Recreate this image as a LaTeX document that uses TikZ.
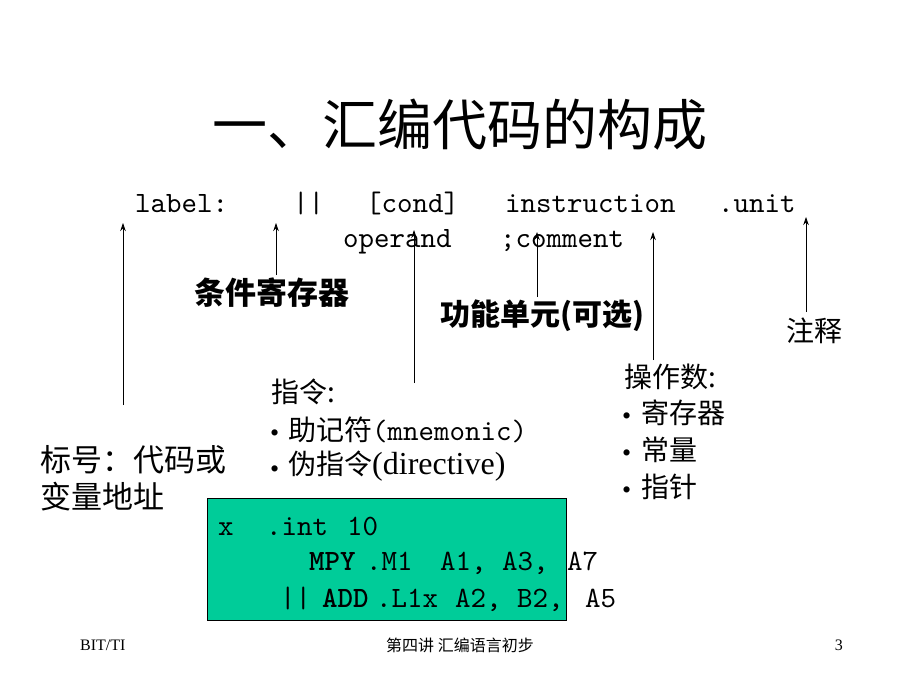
\documentclass[tikz,border=0pt]{standalone}
\usepackage{fontspec}
\setmainfont{Liberation Serif}
\newfontfamily\cjk{Noto Sans CJK SC}
\newfontfamily\codefont[BoldFont=lmmonolt10-bold.otf]{lmmono10-regular.otf}
\usetikzlibrary{arrows.meta}
\definecolor{boxgreen}{RGB}{0,204,153}
\newcommand{\mono}[1]{{\codefont\fontsize{29.5}{29.5}\selectfont #1}}
\tikzset{
  zh/.style={font=\cjk\fontsize{#1}{#1}\selectfont, anchor=west, inner sep=0pt},
  zhbold/.style={font=\cjk\bfseries\fontsize{#1}{#1}\selectfont, anchor=west, inner sep=0pt},
  tok/.style={font=\codefont\fontsize{29.5}{29.5}\selectfont, anchor=base west, inner sep=0pt},
  tokbold/.style={tok, font=\codefont\bfseries\fontsize{29.5}{29.5}\selectfont},
  dot/.style={font=\fontsize{26}{26}\selectfont, anchor=west, inner sep=0pt, yshift=-6pt},
  foot/.style={font=\fontsize{16}{16}\selectfont, inner sep=0pt},
  pointer/.style={-{Stealth[length=8pt,width=5.5pt]}, line width=0.8pt},
}

\begin{document}
\begin{tikzpicture}[x=1pt,y=-1pt]
\useasboundingbox (0,0) rectangle (920,690);

\node[zh=55, anchor=center] (title) at (460,125) {一、汇编代码的构成};

% syntax line
\node[tok] (lab) at (135,212) {label:};
\node[tok] (par) at (293,212) {||};
\node[tok] (cond) at (366,212) {[cond]};
\node[tok] (ins) at (505,212) {instruction};
\node[tok] (unit) at (718,212) {.unit};
\node[tok] (opnd) at (343,247) {operand};
\node[tok] (cmt) at (500,247) {;comment};

% explanations
\node[zh=31] (biaohao) at (40,460) {标号：代码或};
\node[zh=31] (biaohao2) at (40,497) {变量地址};
\node[zhbold=31] (tiaojian) at (194,293) {条件寄存器};
\node[zhbold=30] (gongneng) at (440,316) {功能单元(可选)};
\node[zh=28] (zhushi) at (786,331) {注释};

\node[zh=28] (zhiling) at (271,392) {指令:};
\node[dot] (b1) at (270,430) {•};
\node[zh=28] (zhujifu) at (288,430) {助记符\mono{(mnemonic)}};
\node[dot] (b2) at (270,466) {•};
\node[zh=28] (weizhiling) at (288,466) {伪指令{\rmfamily\fontsize{32}{32}\selectfont(directive)}};

\node[zh=28] (caozuoshu) at (624,377) {操作数:};
\node[dot] (b3) at (622,413) {•};
\node[zh=28] (jicunqi) at (641,413) {寄存器};
\node[dot] (b4) at (622,450) {•};
\node[zh=28] (changliang) at (641,450) {常量};
\node[dot] (b5) at (622,487) {•};
\node[zh=28] (zhizhen) at (641,487) {指针};

% pointers
\coordinate (p1) at (123,405);  \coordinate (q1) at (123,223);
\coordinate (p2) at (276,275);  \coordinate (q2) at (276,223);
\coordinate (p3) at (414,383);  \coordinate (q3) at (414,230);
\coordinate (p4) at (537,297);  \coordinate (q4) at (537,232);
\coordinate (p5) at (653,360);  \coordinate (q5) at (653,232);
\coordinate (p6) at (806,312);  \coordinate (q6) at (806,217);
\foreach \i in {1,...,6}
  \draw[pointer] (p\i) -- (q\i);

% example code
\node[draw=black, line width=0.8pt, fill=boxgreen, minimum width=359pt, minimum height=122pt,
  inner sep=0pt, anchor=north west] (box) at (207,498) {};
\node[tok] (x) at (218,535) {x};
\node[tok] (int) at (266,535) {.int};
\node[tok] (ten) at (347,535) {10};
\node[tokbold] (mpy) at (309,570) {MPY};
\node[tok] (m1) at (366,570) {.M1};
\node[tok] (a1) at (440,570) {A1, A3,};
\node[tok] (a7) at (567,570) {A7};
\node[tok] (par2) at (280,607) {||};
\node[tokbold] (add) at (322,607) {ADD};
\node[tok] (l1x) at (376,607) {.L1x};
\node[tok] (a2) at (455,607) {A2, B2,};
\node[tok] (a5) at (585,607) {A5};

% footer
\node[foot, anchor=west] (bit) at (80,645) {BIT/TI};
\node[foot, font=\cjk\fontsize{16}{16}\selectfont] (lecture) at (460,645) {第四讲 汇编语言初步};
\node[foot, anchor=east] (page) at (843,645) {3};
\end{tikzpicture}
\end{document}
